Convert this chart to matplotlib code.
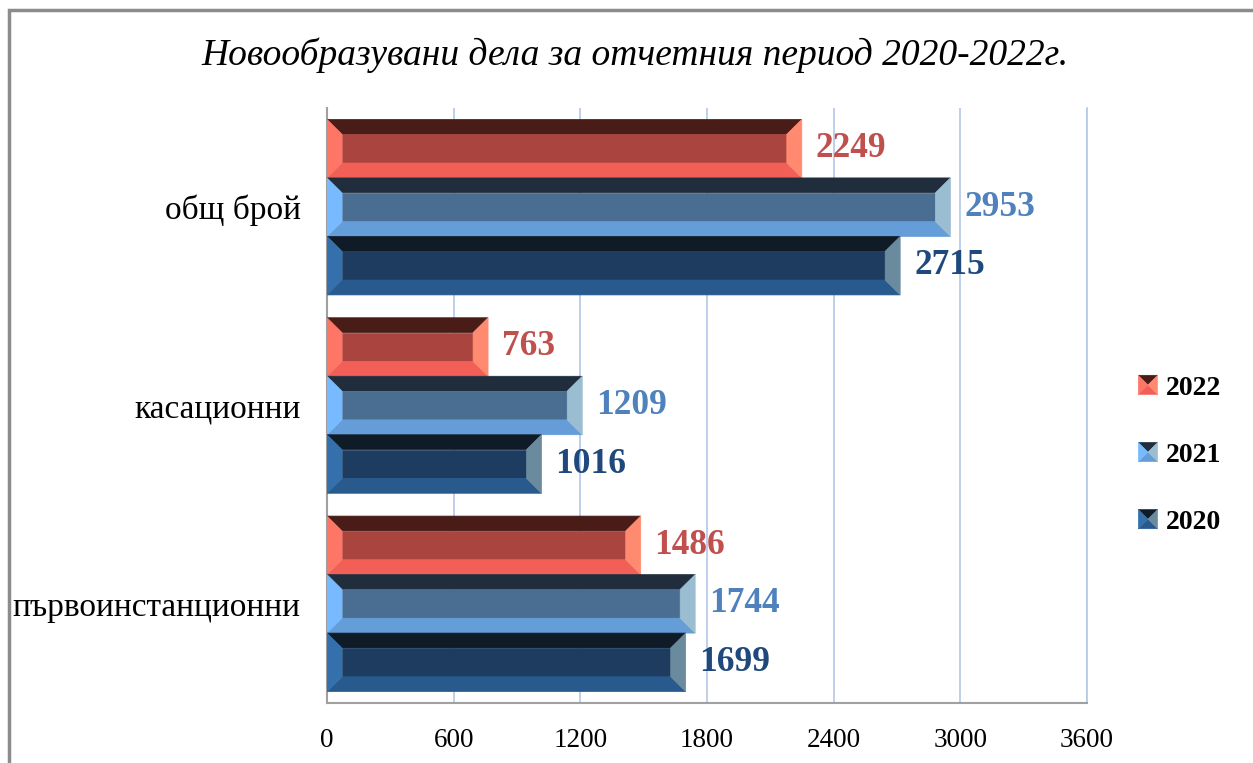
import matplotlib
matplotlib.use("Agg")
import matplotlib.pyplot as plt
from matplotlib.patches import Polygon, Rectangle
from matplotlib.legend_handler import HandlerBase

# data
categories = ["общ брой", "касационни", "първоинстанционни"]
years = ["2022", "2021", "2020"]
values = {
    "2022": [2249, 763, 1486],
    "2021": [2953, 1209, 1744],
    "2020": [2715, 1016, 1699],
}
ticks = [0, 600, 1200, 1800, 2400, 3000, 3600]

# bevel colours: top, face, bottom, left, right
shades = {
    "2022": ["#4a1c18", "#a9453e", "#f25f56", "#ff7566", "#ff8a6f"],
    "2021": ["#1f2d3c", "#496e91", "#659dd8", "#77baff", "#9bbdd1"],
    "2020": ["#101b28", "#1d3c5f", "#285a8e", "#3470ab", "#6a8a9e"],
}
label_colors = {"2022": "#c0504d", "2021": "#4f81bd", "2020": "#1f497d"}

serif = "Liberation Serif"

fig = plt.figure(figsize=(12.53, 7.63), dpi=100)
ax = fig.add_axes([327 / 1253, 1 - 703 / 763, (1087 - 327) / 1253, (703 - 108) / 763])

h = 0.295
bx = 71      # bevel width in x data units
by = 0.075   # bevel height in y data units


def bevel_bar(ax, x1, yc, cols):
    y0, y1 = yc - h / 2, yc + h / 2   # y0 is the top (y axis inverted)
    x0 = 0
    top = [(x0, y0), (x1, y0), (x1 - bx, y0 + by), (x0 + bx, y0 + by)]
    bot = [(x0, y1), (x1, y1), (x1 - bx, y1 - by), (x0 + bx, y1 - by)]
    left = [(x0, y0), (x0 + bx, y0 + by), (x0 + bx, y1 - by), (x0, y1)]
    right = [(x1, y0), (x1 - bx, y0 + by), (x1 - bx, y1 - by), (x1, y1)]
    face = [(x0 + bx, y0 + by), (x1 - bx, y0 + by), (x1 - bx, y1 - by), (x0 + bx, y1 - by)]
    for pts, c in zip([top, face, bot, left, right], cols):
        ax.add_patch(Polygon(pts, closed=True, facecolor=c, edgecolor=c, lw=0.5, zorder=3))


for i, cat in enumerate(categories):
    for j, yr in enumerate(years):
        yc = i + (j - 1) * h
        v = values[yr][i]
        bevel_bar(ax, v, yc, shades[yr])
        ax.annotate(str(v), (v, yc), xytext=(10, 0), textcoords="offset points",
                    ha="left", va="center", fontsize=25.5, fontweight="bold",
                    family=serif, color=label_colors[yr])

ax.set_xlim(0, 3600)
ax.set_ylim(2.5, -0.5)
ax.set_xticks(ticks)
ax.set_xticklabels([str(t) for t in ticks], fontsize=19.5, family=serif)
ax.set_yticks(range(len(categories)))
ax.set_yticklabels(categories, fontsize=24, family=serif)
ax.tick_params(axis="x", length=0, pad=18)
ax.tick_params(axis="y", length=0, pad=19)
ax.grid(axis="x", color="#b4c7e7", lw=1.2, zorder=0)
ax.set_axisbelow(True)
for s in ["top", "right"]:
    ax.spines[s].set_visible(False)
for s in ["left", "bottom"]:
    ax.spines[s].set_color("#a0a0a0")
    ax.spines[s].set_linewidth(1.5)
ax.axvline(3600, color="#b4c7e7", lw=1.2, zorder=0, clip_on=False)

fig.text(0.507, 1 - 55 / 763, "Новообразувани дела за отчетния период 2020-2022г.",
         ha="center", va="center", fontsize=27, style="italic", family=serif)


class PyramidHandler(HandlerBase):
    def create_artists(self, legend, orig_handle, xdescent, ydescent, width, height, fontsize, trans):
        cols = orig_handle.cols
        s = height * 1.0
        x0 = width - s
        y0 = -ydescent + (height - s) / 2
        cx, cy = x0 + s / 2, y0 + s / 2
        tl, tr, br, bl = (x0, y0 + s), (x0 + s, y0 + s), (x0 + s, y0), (x0, y0)
        tris = [[tl, tr, (cx, cy)], [bl, br, (cx, cy)], [tl, bl, (cx, cy)], [tr, br, (cx, cy)]]
        out = []
        for pts, c in zip(tris, [cols[0], cols[2], cols[3], cols[4]]):
            p = Polygon(pts, closed=True, facecolor=c, edgecolor=c, lw=0.3, transform=trans)
            out.append(p)
        return out


class Handle:
    def __init__(self, cols):
        self.cols = cols


handles = [Handle(shades[yr]) for yr in years]
leg = fig.legend(handles, years, handler_map={Handle: PyramidHandler()},
                 loc="center left", bbox_to_anchor=(1141 / 1253, 1 - 455 / 763),
                 frameon=False, prop={"family": serif, "weight": "bold", "size": 20},
                 labelspacing=1.5, handlelength=0.6, handletextpad=0.3, borderpad=0,
                 borderaxespad=0)

# outer frame
fig.patches.append(Rectangle((8.5 / 1253, -0.1), 1.2, 1.1 - 10.5 / 763, transform=fig.transFigure,
                             fill=False, edgecolor="#8c8c8c", lw=2.5))

fig.savefig("out.png", dpi=100)
